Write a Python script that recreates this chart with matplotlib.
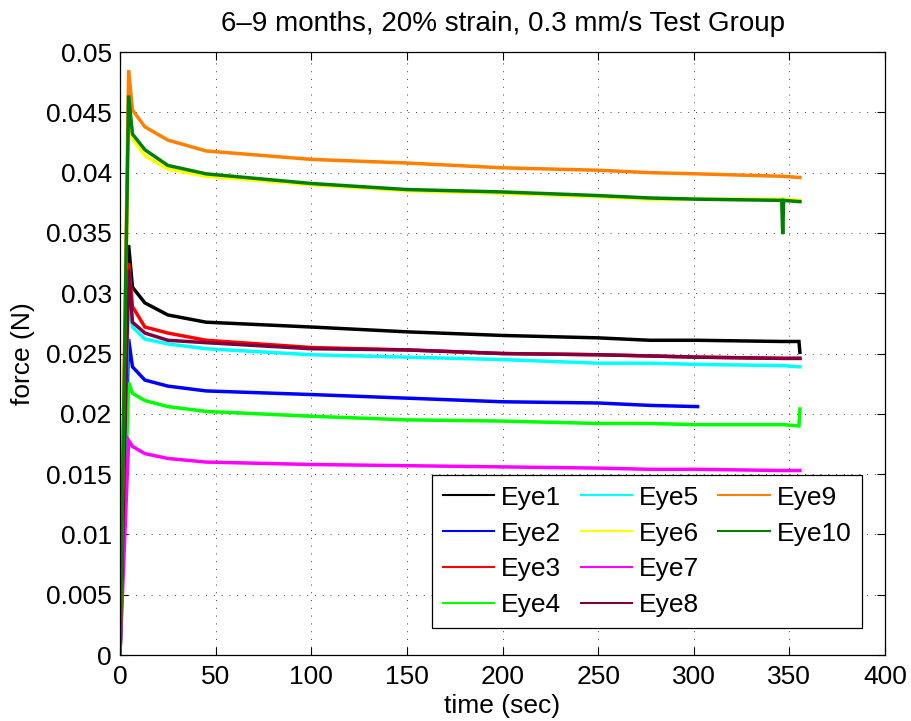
import numpy as np
import matplotlib
matplotlib.use("Agg")
import matplotlib.pyplot as plt
from matplotlib.lines import Line2D

plt.rcParams["font.family"] = ["Liberation Sans", "DejaVu Sans"]

# values (sec, N)
time_s = [0, 4.5, 6.5, 13, 25, 45, 100, 150, 200, 250, 277, 302, 346, 346.5, 347, 355, 355.5]

eye1 = [0, .0340, .0305, .0292, .0282, .0276, .0272, .0268, .0265, .0263, .0261, .0261, .0260, .0260, .0260, .0260, .0251]
eye2 = [0, .0262, .0239, .0228, .0223, .0219, .0216, .0213, .0210, .0209, .0207, .0206,
        None, None, None, None, None]
eye3 = [0, .0325, .0289, .0272, .0267, .0261, .0255, .0253, .0250, .0249, .0248, .0247, .0246, .0246, .0246, .0246, .0246]
eye4 = [0, .0226, .0217, .0211, .0206, .0202, .0198, .0195, .0194, .0192, .0192, .0191, .0191, .0191, .0191, .0190, .0204]
eye5 = [0, .0300, .0272, .0262, .0258, .0254, .0249, .0247, .0245, .0242, .0242, .0241, .0240, .0240, .0240, .0239, .0239]
eye6 = [0, .0455, .0428, .0414, .0403, .0397, .0390, .0385, .0383, .0380, .0378, .0378, .0378, .0378, .0378, .0377, .0377]
eye7 = [0, .0178, .0173, .0167, .0163, .0160, .0158, .0157, .0156, .0155, .0154, .0154, .0153, .0153, .0153, .0153, .0153]
eye8 = [0, .0320, .0276, .0267, .0261, .0259, .0254, .0253, .0250, .0249, .0248, .0247, .0246, .0246, .0246, .0246, .0246]
eye9 = [0, .0485, .0452, .0438, .0427, .0418, .0411, .0408, .0404, .0402, .0400, .0399, .0397, .0397, .0397, .0396, .0396]
eye10 = [0, .0464, .0432, .0419, .0406, .0399, .0391, .0386, .0384, .0381, .0379, .0378, .0377, .0349, .0377, .0376, .0376]

labels = ["Eye1", "Eye2", "Eye3", "Eye4", "Eye5", "Eye6", "Eye7", "Eye8", "Eye9", "Eye10"]
colors = ["#000000", "#0000ff", "#ff0000", "#00ff00", "#00ffff",
          "#ffff00", "#ff00ff", "#800040", "#ff8000", "#008000"]
series = [eye1, eye2, eye3, eye4, eye5, eye6, eye7, eye8, eye9, eye10]

fig = plt.figure(figsize=(9.12, 7.21), dpi=100)
ax = fig.add_axes([0.1316, 0.0915, 0.8388, 0.8363])

t = np.array(time_s, dtype=float)
handles = []
for vals, c, lab in zip(series, colors, labels):
    f = np.array([np.nan if v is None else v for v in vals], dtype=float)
    ax.plot(t, f, color=c, lw=2.5, solid_joinstyle="miter")
    handles.append(Line2D([], [], color=c, lw=1.5))

ax.set_xlim(0, 400)
ax.set_ylim(0, 0.05)
ax.set_xticks(np.arange(0, 401, 50))
yt = np.round(np.arange(0, 0.0501, 0.005), 4)
ax.set_yticks(yt)
ax.set_yticklabels([f"{v:g}" for v in yt])
ax.tick_params(direction="in", length=5.5, width=0.8, top=True, right=True,
               labelsize=19)
ax.tick_params(axis="x", pad=7)
ax.tick_params(axis="y", pad=6)
for s in ax.spines.values():
    s.set_linewidth(0.9)
ax.grid(True, color="0.25", linestyle=(0, (1, 7)), linewidth=0.7)

ax.set_xlabel("time (sec)", fontsize=19, labelpad=4)
ax.set_ylabel("force (N)", fontsize=19, labelpad=8)
ax.set_title("6\u20139 months, 20% strain, 0.3 mm/s Test Group", fontsize=20, pad=15)

# pad legend to 12 entries so columns read 4 / 4 / 2
blank = Line2D([], [], color="none")
leg = ax.legend(handles + [blank, blank], labels + ["", ""], ncol=3,
                loc="lower left", bbox_to_anchor=(0.408, 0.045),
                fontsize=19, frameon=True, fancybox=False, framealpha=1,
                edgecolor="k", handlelength=1.95, handletextpad=0.27,
                columnspacing=0.72, labelspacing=0.45, borderpad=0.4,
                borderaxespad=0)
leg.get_frame().set_linewidth(0.9)

fig.savefig("out.png", dpi=100)
